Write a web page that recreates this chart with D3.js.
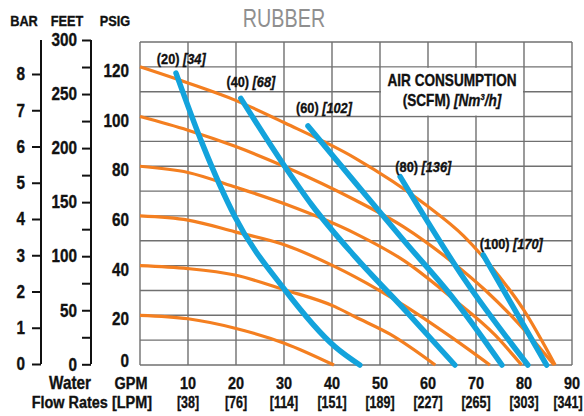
<!DOCTYPE html>
<html>
<head>
<meta charset="utf-8">
<script src="https://cdn.jsdelivr.net/npm/d3@7"></script>
<style>
  body { margin: 0; background: #fff; }
  text { font-family: "Liberation Sans", Arial, sans-serif; font-weight: bold; fill: #111; stroke: #111; stroke-width: 0.35px; }
  text.title { font-weight: normal; fill: #8f8f8f; stroke: none; }
</style>
</head>
<body>
<div class="chart"></div>
<script>
// GPM ticks and their LPM equivalents
var gpmTicks = [10, 20, 30, 40, 50, 60, 70, 80, 90];
var lpmLabels = ["[38]", "[76]", "[114]", "[151]", "[189]", "[227]", "[265]", "[303]", "[341]"];
var psiTicks = [0, 20, 40, 60, 80, 100, 120];
var barTicks = [0, 1, 2, 3, 4, 5, 6, 7, 8];
var feetTicks = [0, 25, 50, 75, 100, 125, 150, 175, 200, 225, 250, 275, 300];

// inlet air pressure curves (psig), points are [gpm, head psig]
var air20 = [[0, 20], [10, 18.6], [19.8, 14.8], [30.2, 8.7], [40.4, 0]];
var air40 = [[0, 40], [10, 38.8], [19.8, 36.2], [30.2, 30.2], [40.6, 23.5], [44.8, 19.4], [52, 12.5], [61.5, 0]];
var air60 = [[0, 60], [10, 58.3], [19.8, 53.6], [30.2, 48.3], [40.6, 39.6], [44.8, 35.5], [55, 24], [65, 11], [72.9, 0]];
var air80 = [[0, 80], [10, 77.5], [20, 71.5], [30.8, 64.4], [44.8, 53], [55, 42], [65, 27], [74, 12], [79.5, 0]];
var air100 = [[0, 100], [10, 94.5], [19.8, 88], [30.2, 79.8], [44.8, 66.4], [55, 55.5], [65, 41.5], [72, 30], [78, 18.5], [86.3, 0]];
var air120 = [[0, 120], [10, 113.5], [19.8, 106.6], [30.2, 97.4], [44.8, 83.3], [59.6, 64.4], [67.4, 52], [73, 40], [80, 22], [86.5, 0]];

// air consumption curves (scfm)
var scfm20 = [[7.5, 117.5], [13, 89], [19.8, 59.6], [30.2, 30.2], [40.6, 7.4], [45.8, 0]];
var scfm40 = [[21, 107.3], [30.2, 79.8], [35.8, 64.4], [44.8, 43.6], [55.2, 22.1], [65.6, 0]];
var scfm60 = [[35, 96.2], [44.8, 73.5], [55, 50], [65, 27.5], [75.4, 0]];
var scfm80 = [[54.2, 75.8], [67.7, 34.2], [80.8, 0]];
var scfm100 = [[71.5, 44.3], [78, 22.5], [84.7, 0]];

var pressureCurves = [air20, air40, air60, air80, air100, air120];
var airCurves = [scfm20, scfm40, scfm60, scfm80, scfm100];
var airLabels = [
  {gpm: 3.5, psi: 121, n: "(20)", m: "[34]"},
  {gpm: 18, psi: 112, n: "(40)", m: "[68]"},
  {gpm: 32.5, psi: 101.5, n: "(60)", m: "[102]"},
  {gpm: 53.2, psi: 77.5, n: "(80)", m: "[136]"},
  {gpm: 70.8, psi: 46.5, n: "(100)", m: "[170]"}
];

var W = 584, H = 416;
var K = 0.85; // horizontal squeeze to get a condensed face

var svg = d3.select(".chart").append("svg")
    .attr("width", W)
    .attr("height", H);

var x = d3.scaleLinear().domain([0, 90]).range([140, 572]);
var y = d3.scaleLinear().domain([0, 130]).range([365, 42]);
var yBar = d3.scaleLinear().domain([0, 8]).range([364, 74]);
var yFeet = d3.scaleLinear().domain([0, 300]).range([364.3, 40]);

// condensed text placed at px, py
function ctext(px, py, size, str, anchor, k){
  return svg.append("text")
      .attr("transform", "translate(" + px + "," + py + ") scale(" + (k || K) + ",1)")
      .attr("text-anchor", anchor || "start")
      .style("font-size", size + "px")
      .text(str);
}

// title
ctext(284, 27, 26, "RUBBER", "middle", 0.76)
    .attr("class", "title");

// grid
var grid = svg.append("g").attr("class", "grid");
d3.range(0, 91, 10).forEach(function(v){
  grid.append("line")
      .attr("x1", x(v)).attr("x2", x(v))
      .attr("y1", y(0)).attr("y2", y(130));
});
d3.range(0, 131, 10).forEach(function(v){
  grid.append("line")
      .attr("x1", x(0)).attr("x2", x(90))
      .attr("y1", y(v)).attr("y2", y(v));
});
grid.selectAll("line")
    .attr("stroke", "#707070")
    .attr("stroke-width", 1.4);

// legend box blanks out the grid cells behind it
svg.append("rect")
    .attr("x", x(50) + 1).attr("y", y(120) + 1)
    .attr("width", x(80) - x(50) - 2)
    .attr("height", y(100) - y(120) - 2)
    .attr("fill", "#fff");

var line = d3.line()
    .x(function(d){ return x(d[0]); })
    .y(function(d){ return y(d[1]); })
    .curve(d3.curveMonotoneX);

svg.selectAll(".pressure")
    .data(pressureCurves)
    .enter().append("path")
    .attr("class", "pressure")
    .attr("d", line)
    .attr("fill", "none")
    .attr("stroke", "#f47f20")
    .attr("stroke-width", 3.2);

svg.selectAll(".air")
    .data(airCurves)
    .enter().append("path")
    .attr("class", "air")
    .attr("d", line)
    .attr("fill", "none")
    .attr("stroke", "#13a3dc")
    .attr("stroke-width", 5.5)
    .attr("stroke-linecap", "round");

// curve labels
airLabels.forEach(function(d){
  var t = ctext(x(d.gpm), y(d.psi), 15, null);
  t.append("tspan").text(d.n + " ");
  t.append("tspan").style("font-style", "italic").text(d.m);
});

// legend text
ctext(x(65), 86, 16, "AIR CONSUMPTION", "middle");
var leg2 = ctext(x(65), 106, 16, null, "middle");
leg2.append("tspan").text("(SCFM) ");
leg2.append("tspan").style("font-style", "italic").text("[Nm");
leg2.append("tspan").style("font-style", "italic").style("font-size", "9px").attr("dy", -6).text("3");
leg2.append("tspan").style("font-style", "italic").attr("dy", 6).text("/h]");

// left axes
var barAxis = d3.axisLeft(yBar).tickValues(barTicks).tickSize(9).tickSizeOuter(0).tickPadding(7);
var feetAxis = d3.axisLeft(yFeet).tickValues(feetTicks).tickSize(9).tickSizeOuter(0).tickPadding(5)
    .tickFormat(function(d){ return d % 50 === 0 ? d : ""; });

var gBar = svg.append("g").attr("transform", "translate(41,0)").call(barAxis);
var gFeet = svg.append("g").attr("transform", "translate(91,0)").call(feetAxis);
[gBar, gFeet].forEach(function(g){
  g.attr("font-family", null).attr("font-size", null);
  g.select(".domain").attr("stroke", "#111").attr("stroke-width", 2)
      .attr("d", "M0,40V" + yBar(0));
  g.selectAll(".tick line").attr("stroke", "#111").attr("stroke-width", 2);
  g.selectAll(".tick text")
      .attr("fill", "#111")
      .style("font-size", "18px")
      .attr("x", function(){ return +d3.select(this).attr("x") / K; })
      .attr("transform", "scale(" + K + ",1)");
});

psiTicks.forEach(function(d){
  ctext(129, y(d) + (d === 0 ? 2 : 10), 18, d, "end");
});

// axis titles
ctext(24, 26, 15, "BAR", "middle");
ctext(67, 26, 15, "FEET", "middle");
ctext(115, 26, 15, "PSIG", "middle");

// bottom labels
gpmTicks.forEach(function(d, i){
  ctext(x(d), 389, 17, d, "middle");
  ctext(Math.min(x(d), 568), 408, 16, lpmLabels[i], "middle", 0.78);
});
ctext(131, 389, 17, "GPM", "middle");
ctext(91, 389, 18, "Water", "end");
ctext(152, 408, 17, "Flow Rates [LPM]", "end");
</script>
</body>
</html>
